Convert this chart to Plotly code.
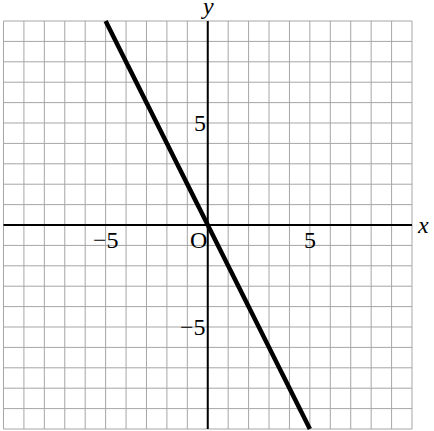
import plotly.graph_objects as go

# graph of y = -2x on a 20x20 grid
line_x = [-5, 5]
line_y = [10, -10]

grid_min, grid_max = -10, 10
x_tick_vals = [-5, 5]
x_tick_text = ["\u22125", "5"]
y_tick_vals = [5, -5]
y_tick_text = ["5", "\u22125"]

fig = go.Figure()

# grid lines
for k in range(grid_min, grid_max + 1):
    fig.add_shape(type="line", x0=k, x1=k, y0=grid_min, y1=grid_max,
                  line=dict(color="#a6a6a6", width=1), layer="below")
    fig.add_shape(type="line", x0=grid_min, x1=grid_max, y0=k, y1=k,
                  line=dict(color="#a6a6a6", width=1), layer="below")

# axes
fig.add_shape(type="line", x0=grid_min, x1=grid_max, y0=0, y1=0,
              line=dict(color="black", width=2))
fig.add_shape(type="line", x0=0, x1=0, y0=grid_min, y1=grid_max,
              line=dict(color="black", width=2))

fig.add_trace(go.Scatter(x=line_x, y=line_y, mode="lines",
                         line=dict(color="black", width=4.5), showlegend=False))

font = dict(family="Liberation Serif", size=24, color="black")

for v, t in zip(x_tick_vals, x_tick_text):
    fig.add_annotation(x=v, y=0, text=t, showarrow=False, font=font,
                       xanchor="center", yanchor="top", yshift=0)
for v, t in zip(y_tick_vals, y_tick_text):
    fig.add_annotation(x=0, y=v, text=t, showarrow=False, font=font,
                       xanchor="right", yanchor="middle", xshift=0, yshift=0)

fig.add_annotation(x=0, y=0, text="O", showarrow=False, font=font,
                   xanchor="right", yanchor="top", yshift=0, xshift=1)
fig.add_annotation(x=grid_max, y=0, text="<i>x</i>", showarrow=False, font=font,
                   xanchor="left", yanchor="middle", xshift=3)
fig.add_annotation(x=0, y=grid_max, text="<i>y</i>", showarrow=False, font=font,
                   xanchor="center", yanchor="bottom", yshift=0)

fig.update_xaxes(range=[-10.171, 11.077], visible=False, fixedrange=True)
fig.update_yaxes(range=[-10.098, 11.03], visible=False, fixedrange=True)
fig.update_layout(width=434, height=431, margin=dict(l=0, r=0, t=0, b=0),
                  plot_bgcolor="white", paper_bgcolor="white")

fig.write_html("out.html", config={"displayModeBar": False},
               post_script="document.body.style.margin='0';")
